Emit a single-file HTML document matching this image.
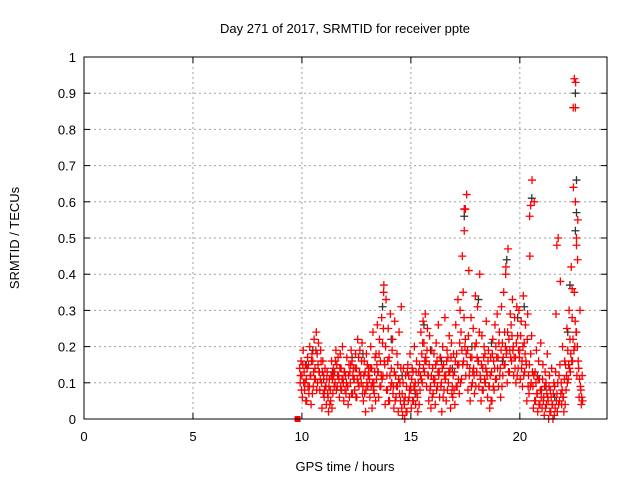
<!DOCTYPE html>
<html><head><meta charset="utf-8"><style>
body{margin:0;background:#fff;}
svg text{font-family:"Liberation Sans",sans-serif;font-size:13px;fill:#000;}
</style></head><body>
<svg id="chart" width="640" height="480" xmlns="http://www.w3.org/2000/svg">
<rect width="640" height="480" fill="#fff"/>
<text x="345" y="33" text-anchor="middle" font-size="14">Day 271 of 2017, SRMTID for receiver ppte</text>
<g id="grid"></g>
<g id="ticks"></g>
<g id="marks"></g>
<rect x="84" y="57" width="523" height="362" fill="none" stroke="#000" stroke-width="1"/>
<text x="345" y="471" text-anchor="middle" font-size="14">GPS time / hours</text>
<text transform="translate(19,238) rotate(-90)" text-anchor="middle" font-size="14">SRMTID / TECUs</text>
</svg>
<script>
const xTicks=[0,5,10,15,20];
const yTicks=[0,0.1,0.2,0.3,0.4,0.5,0.6,0.7,0.8,0.9,1];
const yTickLabels=["0","0.1","0.2","0.3","0.4","0.5","0.6","0.7","0.8","0.9","1"];
const times=[9.9,10.0,10.1,10.2,10.3,10.4,10.5,10.6,10.7,10.8,10.9,11.0,11.1,11.2,11.3,11.4,11.5,11.6,11.7,11.8,11.9,12.0,12.1,12.2,12.3,12.4,12.5,12.6,12.7,12.8,12.9,13.0,13.1,13.2,13.3,13.4,13.5,13.6,13.7,13.8,13.9,14.0,14.1,14.2,14.3,14.4,14.5,14.6,14.7,14.8,14.9,15.0,15.1,15.2,15.3,15.4,15.5,15.6,15.7,15.8,15.9,16.0,16.1,16.2,16.3,16.4,16.5,16.6,16.7,16.8,16.9,17.0,17.1,17.2,17.3,17.4,17.5,17.6,17.7,17.8,17.9,18.0,18.1,18.2,18.3,18.4,18.5,18.6,18.7,18.8,18.9,19.0,19.1,19.2,19.3,19.4,19.5,19.6,19.7,19.8,19.9,20.0,20.1,20.2,20.3,20.4,20.5,20.6,20.7,20.8,20.9,21.0,21.1,21.2,21.3,21.4,21.5,21.6,21.7,21.8,21.9,22.0,22.1,22.2,22.3,22.4,22.5,22.6,22.7,22.8];
const redA=[.14,.12,.13,.11,.15,.12,.16,.14,.18,.13,.10,.12,.09,.06,.08,.11,.13,.15,.11,.14,.10,.12,.09,.13,.16,.11,.14,.17,.12,.09,.13,.15,.11,.14,.10,.18,.13,.16,.21,.15,.12,.17,.14,.09,.12,.15,.10,.07,.04,.09,.12,.08,.13,.10,.06,.15,.18,.21,.16,.12,.09,.14,.11,.16,.13,.10,.15,.12,.17,.14,.09,.13,.18,.15,.24,.35,.22,.19,.14,.17,.12,.21,.16,.11,.14,.18,.12,.09,.13,.16,.20,.17,.14,.21,.24,.19,.22,.26,.20,.17,.23,.19,.16,.21,.15,.12,.18,.09,.13,.07,.11,.08,.06,.10,.05,.08,.04,.09,.07,.12,.10,.06,.15,.19,.22,.28,.35,.24,.14,.08];
const redB=[.10,.06,.08,.05,.07,.04,.09,.11,.10,.08,.03,.06,.04,.02,.05,.07,.10,.09,.06,.08,.05,.07,.04,.10,.07,.08,.06,.09,.10,.05,.02,.09,.06,.03,.07,.11,.06,.09,.12,.04,.08,.05,.10,.03,.06,.02,.05,.01,.00,.02,.06,.03,.05,.04,.02,.08,.10,.13,.09,.05,.03,.07,.04,.09,.06,.02,.08,.05,.10,.03,.06,.04,.09,.07,.11,.16,.12,.08,.05,.10,.07,.13,.09,.05,.08,.10,.06,.03,.05,.08,.11,.09,.06,.12,.15,.10,.13,.16,.12,.10,.14,.11,.09,.13,.05,.07,.10,.03,.05,.02,.04,.03,.01,.04,.00,.02,.00,.03,.02,.05,.04,.02,.08,.11,.13,.16,.20,.12,.06,.04];
const redC=[.16,.19,.15,.17,.20,.18,.22,.24,.21,.19,.16,.14,.13,.11,.16,.12,.19,.17,.18,.20,.13,.17,.15,.19,.14,.18,.22,.19,.21,.16,.18,.14,.20,.24,.17,.26,.22,.28,.37,.33,.25,.29,.22,.27,.18,.24,.31,.14,.12,.15,.18,.14,.20,.16,.13,.24,.27,.29,.25,.23,.19,.18,.21,.26,.17,.20,.28,.19,.23,.21,.18,.26,.33,.30,.45,.58,.62,.41,.28,.25,.34,.31,.40,.23,.20,.27,.19,.17,.22,.26,.29,.24,.31,.35,.42,.47,.29,.33,.28,.31,.30,.27,.34,.26,.29,.45,.66,.60,.19,.16,.21,.15,.13,.18,.12,.14,.10,.29,.50,.38,.20,.16,.25,.30,.42,.64,.93,.55,.30,.12];
const redD=[.12,.15,.10,.14,.09,.16,.13,.19,.15,.11,.13,.08,.11,.09,.12,.14,.16,.12,.14,.11,.13,.10,.12,.15,.12,.14,.11,.13,.16,.12,.08,.12,.14,.10,.13,.15,.18,.12,.25,.20,.16,.12,.19,.13,.09,.11,.14,.10,.06,.13,.08,.11,.09,.13,.10,.12,.21,.16,.19,.15,.12,.11,.15,.13,.17,.14,.12,.16,.13,.17,.12,.16,.15,.21,.19,.28,.18,.23,.17,.13,.20,.17,.24,.15,.17,.14,.16,.12,.18,.14,.17,.21,.19,.17,.20,.24,.19,.23,.17,.21,.19,.23,.20,.18,.22,.15,.23,.12,.10,.11,.08,.11,.09,.07,.09,.06,.07,.13,.10,.15,.08,.11,.12,.15,.18,.22,.27,.20,.11,.06];
const redE=[.08,.10,.05,.09,.12,.07,.11,.08,.13,.16,.07,.09,.07,.04,.03,.09,.08,.12,.09,.11,.08,.09,.06,.07,.11,.06,.10,.12,.07,.07,.10,.12,.09,.08,.05,.13,.09,.11,.16,.08,.05,.09,.07,.05,.09,.07,.03,.05,.02,.05,.09,.05,.08,.07,.04,.11,.14,.17,.12,.08,.06,.10,.08,.12,.09,.06,.11,.08,.13,.07,.08,.09,.11,.10,.15,.20,.15,.12,.09,.14,.09,.16,.12,.08,.11,.13,.09,.05,.09,.11,.14,.12,.09,.15,.18,.13,.17,.19,.14,.12,.17,.14,.12,.16,.09,.09,.13,.05,.07,.04,.06,.05,.03,.06,.02,.04,.01,.05,.04,.07,.06,.04,.10,.14,.16,.19,.24,.16,.09,.05];
const spikeTimes=[22.45,22.5,22.55,20.45,17.45,17.45,22.55,22.6,21.7,19.35,22.6,22.65,17.5,20.5,22.4,13.75];
const spikeVals=[.86,.94,.86,.56,.58,.52,.60,.48,.48,.40,.50,.44,.58,.59,.36,.35];
const blackTimes=[22.55,22.6,22.6,22.55,20.55,17.45,19.4,18.1,13.7,15.6,10.5,12.3,14.1,16.4,18.7,19.9,21.2,11.4,20.2,22.3,10.2,11.0,12.8,13.3,14.6,15.2,16.9,17.8,18.4,19.2,20.8,21.6,22.2,11.8,12.5,15.9];
const blackVals=[.90,.66,.57,.52,.61,.56,.44,.33,.31,.26,.19,.17,.22,.16,.21,.28,.09,.13,.31,.37,.15,.11,.18,.09,.12,.07,.14,.20,.10,.16,.12,.06,.24,.08,.14,.19];
const X=t=>84+t*523/24, Y=v=>419-v*362;
const NS="http://www.w3.org/2000/svg";
const grid=document.getElementById('grid'),ticks=document.getElementById('ticks'),marks=document.getElementById('marks');
function line(p,x1,y1,x2,y2,st,extra){const l=document.createElementNS(NS,'line');l.setAttribute('x1',x1);l.setAttribute('y1',y1);l.setAttribute('x2',x2);l.setAttribute('y2',y2);l.setAttribute('stroke',st);if(extra)l.setAttribute('stroke-dasharray',extra);p.appendChild(l);return l;}
function text(p,x,y,s,anc){const t=document.createElementNS(NS,'text');t.setAttribute('x',x);t.setAttribute('y',y);t.setAttribute('text-anchor',anc);t.textContent=s;p.appendChild(t);return t;}
yTicks.forEach((v,i)=>{const y=Y(v);
 if(i>0&&i<yTicks.length-1){const g=line(grid,84,y,607,y,'#a0a0a0','2,3');
 
 }
 line(ticks,84,y,90,y,'#000');line(ticks,607,y,601,y,'#000');
 const t=text(ticks,76,y+5,yTickLabels[i],'end');
 
 });
xTicks.forEach(v=>{const x=X(v);
 if(v>0){const g=line(grid,x,57,x,419,'#a0a0a0','2,3');
 
 }
 line(ticks,x,419,x,413,'#000');line(ticks,x,57,x,63,'#000');
 const t=text(ticks,x,441,String(v),'middle');
 
 });
function plus(t,v,col,name){const g=document.createElementNS(NS,'path');const x=X(t),y=Y(v);
 g.setAttribute('d',`M${x-4},${y}h8M${x},${y-4}v8`);g.setAttribute('stroke',col);g.setAttribute('stroke-width','1.3');
 
 
 marks.appendChild(g);}
blackTimes.forEach((t,i)=>plus(t,blackVals[i],'#333','black-point'));
times.forEach((t,i)=>{
 plus(t,redA[i],'#f00','red-point');
 plus(t+0.02,redB[i],'#f00','red-point');
 plus(t+0.04,redD[i],'#f00','red-point');
 plus(t+0.06,redC[i],'#f00','red-point');
 plus(t+0.08,redE[i],'#f00','red-point');});
spikeTimes.forEach((t,i)=>plus(t,spikeVals[i],'#f00','red-spike-point'));
const sq=document.createElementNS(NS,'rect');sq.setAttribute('x',X(9.8)-3);sq.setAttribute('y',416);sq.setAttribute('width',6);sq.setAttribute('height',6);sq.setAttribute('fill','#f00');


marks.appendChild(sq);
</script>
</body></html>
